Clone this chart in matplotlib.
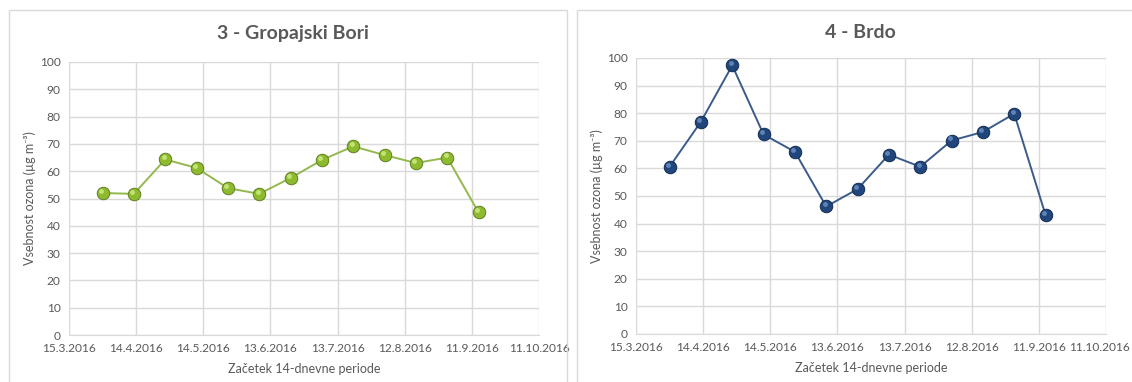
import matplotlib
matplotlib.use("Agg")
import matplotlib.pyplot as plt
import matplotlib.dates as mdates
import matplotlib.transforms as mtransforms
from matplotlib.patches import Rectangle
from matplotlib.ticker import FuncFormatter
import datetime as dt

plt.rcParams['font.family'] = ['Lato', 'DejaVu Sans']

period_starts = ["2016-03-30", "2016-04-13", "2016-04-27", "2016-05-11", "2016-05-25",
                 "2016-06-08", "2016-06-22", "2016-07-06", "2016-07-20", "2016-08-03",
                 "2016-08-17", "2016-08-31", "2016-09-14"]
gropajski_bori = [52.0, 51.7, 64.3, 61.2, 53.8, 51.7, 57.5, 64.1, 69.1, 65.9, 63.0, 65.0, 44.9]
brdo = [60.6, 76.9, 97.3, 72.3, 66.0, 46.2, 52.5, 65.0, 60.6, 70.1, 73.2, 79.8, 43.1]
titles = ["3 - Gropajski Bori", "4 - Brdo"]
tick_dates = ["2016-03-15", "2016-04-14", "2016-05-14", "2016-06-13", "2016-07-13",
              "2016-08-12", "2016-09-11", "2016-10-11"]
y_ticks = [0, 10, 20, 30, 40, 50, 60, 70, 80, 90, 100]
xlabel = "Začetek 14-dnevne periode"
ylabel = "Vsebnost ozona (µg m⁻³)"

W, H = 1132, 382
fig = plt.figure(figsize=(W / 100, H / 100), dpi=100)
fig.patch.set_facecolor("white")

def px(x0, y0, x1, y1):
    return [x0 / W, 1 - y1 / H, (x1 - x0) / W, (y1 - y0) / H]

# panel frames
for (x0, x1) in [(9, 567), (577, 1140)]:
    fig.patches.append(Rectangle((x0 / W, -0.05), (x1 - x0) / W, 1 - 10 / H + 0.05,
                                 transform=fig.transFigure, fill=False,
                                 edgecolor="#D9D9D9", linewidth=1.0))

dates = [dt.datetime.strptime(d, "%Y-%m-%d") for d in period_starts]
tdates = [dt.datetime.strptime(d, "%Y-%m-%d") for d in tick_dates]

def fmt(x, pos):
    d = mdates.num2date(x)
    return f"{d.day}.{d.month}.{d.year}"

specs = [
    (px(69, 62, 539, 335), gropajski_bori, "#93B94E", "#8DBA2E", "#5F7F22", "#D2EE8A", titles[0], 293),
    (px(636, 58, 1106, 334), brdo, "#3B5B8A", "#20467C", "#132C50", "#6F93C6", titles[1], 860),
]
grey = "#595959"
axes = []
for rect, vals, lc, fc, ec, hc, title, tx in specs:
    ax = fig.add_axes(rect)
    axes.append(ax)
    ax.plot(dates, vals, color=lc, linewidth=1.4, zorder=3)
    ax.plot(dates, vals, linestyle="none", marker="o", markersize=9,
            markerfacecolor=fc, markeredgecolor=ec, markeredgewidth=0.7, zorder=4)
    off = ax.transData + mtransforms.ScaledTranslation(-1.2 / 72, 1.5 / 72, fig.dpi_scale_trans)
    ax.plot(dates, vals, linestyle="none", marker="o", markersize=3.5,
            markerfacecolor=hc, markeredgecolor="none", alpha=0.8, zorder=5, transform=off)
    ax.set_xlim(tdates[0], tdates[-1])
    ax.set_ylim(0, 100)
    ax.set_xticks(tdates)
    ax.xaxis.set_major_formatter(FuncFormatter(fmt))
    ax.set_yticks(y_ticks)
    ax.grid(True, color="#D9D9D9", linewidth=1.0, zorder=0)
    ax.set_axisbelow(True)
    for s in ["top", "right", "left"]:
        ax.spines[s].set_visible(False)
    ax.spines["bottom"].set_color("#D9D9D9")
    ax.tick_params(length=0, colors=grey, labelsize=8.6, pad=6)
    ax.set_xlabel(xlabel, color=grey, fontsize=9, labelpad=6)
    ax.set_ylabel(ylabel, color=grey, fontsize=9, labelpad=3)
    fig.text(tx / W, 1 - 33 / H, title, ha="center", va="center",
             fontsize=14, fontweight="bold", color=grey)

# keep the last date label of the right panel inside the figure
fig.canvas.draw()
last = axes[1].get_xticklabels()[-1]
last.set_horizontalalignment("right")
last.set_transform(last.get_transform() +
                   mtransforms.ScaledTranslation(24 / 100, 0, fig.dpi_scale_trans))

fig.savefig("out.png", dpi=100, facecolor="white")
